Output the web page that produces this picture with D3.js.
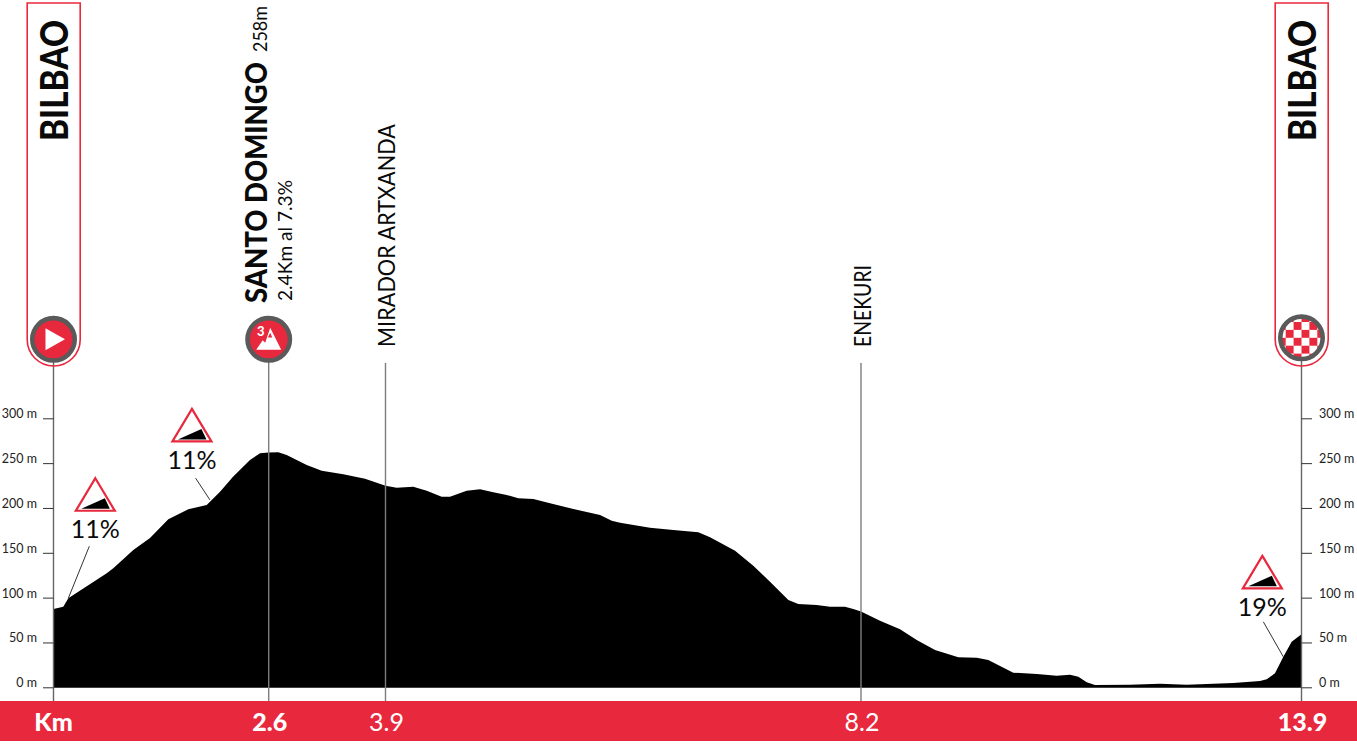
<!DOCTYPE html>
<html><head><meta charset="utf-8">
<style>html,body{margin:0;padding:0;background:#fff;overflow:hidden}svg{display:block}text{font-family:Lato,"Open Sans",sans-serif}</style>
<script src="https://cdn.jsdelivr.net/npm/d3@7"></script></head>
<body><div id="chart"></div>
<script>
const markerKm=[0,2.6,3.9,8.2,13.9];
const markerLabels=["Km","2.6","3.9","8.2","13.9"];
const markerBold=[true,true,false,false,true];
const elevTicks=[0,50,100,150,200,250,300];
const profileKm=[0,.118,.179,.643,.722,.964,1.166,1.387,1.629,1.851,2.012,2.169,2.374,2.495,2.6,2.707,2.8,3.023,3.19,3.43,3.672,3.9,4.001,4.151,4.273,4.408,4.483,4.634,4.755,4.875,4.996,5.101,5.237,5.388,5.599,5.84,5.946,6.021,6.292,6.503,6.729,6.835,7.061,7.226,7.377,7.543,7.633,7.799,7.92,8.055,8.13,8.2,8.446,8.705,8.921,9.158,9.459,9.697,9.847,10.171,10.474,10.732,10.904,11.012,11.121,11.228,11.681,12.069,12.415,13.018,13.363,13.45,13.557,13.665,13.773,13.9];
const profileElev=[87.3,89.9,99.3,127.1,132.7,153.1,166.5,187.4,198.5,203.3,218.1,234.9,253.5,261,261.8,262.1,259.1,247.9,241.6,237.5,232.6,224.8,222.6,223.7,219.2,212.6,212.6,219.2,220.8,217.5,214.5,210.8,210,205.2,198.8,192.1,185.8,183.6,178,175.4,172.9,167.3,152.3,135.6,117.8,97.4,92.9,91.8,89.9,89.9,87.3,84.5,74.3,64.7,52.7,41.6,33.5,33,30.4,16.3,14.8,12.9,14.1,11.8,5.6,2.6,2.9,4,2.9,4.8,7,8.9,15.6,34.1,50.9,59.1];
const climbKm=[.179,1.89,13.665];
const climbElev=[99.3,209,34];
const climbLabels=["11%","11%","19%"];
const startFinish=["BILBAO","BILBAO"];

const W=1357,H=744,red="#e8283c",grey="#5a5a5a";
const x=d3.scaleLinear().domain(markerKm).range([53.5,268.7,385.5,861,1301.5]);
const y=d3.scaleLinear().domain([0,300]).range([687.3,418.3]);
const svg=d3.select("#chart").append("svg").attr("width",W).attr("height",H);

// profile
const pts=profileKm.map((k,i)=>[k,profileElev[i]]);
svg.append("path").datum(pts).attr("fill","#000")
 .attr("d",d3.area().x(d=>x(d[0])).y0(y(-0.5)).y1(d=>y(d[1])).curve(d3.curveLinear));

// bottom band
svg.append("rect").attr("x",0).attr("y",701).attr("width",W).attr("height",40).attr("fill",red);

// vertical marker lines
svg.selectAll("line.m").data(markerKm).join("line").attr("class","m")
 .attr("x1",d=>x(d)).attr("x2",d=>x(d)).attr("y1",(d,i)=>i==2||i==3?363:350).attr("y2",701)
 .attr("stroke",(d,i)=>i==0||i==4?"#666":"#7d7d7d").attr("stroke-width",1.4);

// axes
const fmt=d=>d+" m";
const axL=d3.axisLeft(y).tickValues(elevTicks).tickFormat(fmt).tickSize(10.5).tickPadding(6);
const axR=d3.axisRight(y).tickValues(elevTicks).tickFormat(fmt).tickSize(10.5).tickPadding(7);
[[axL,x(0)],[axR,x(13.9)]].forEach(([a,px])=>{
  const g=svg.append("g").attr("transform",`translate(${px},0)`).call(a);
  g.select(".domain").remove();
  g.selectAll("line").attr("stroke","#333").attr("stroke-width",1);
  g.selectAll("text").attr("dy","-0.05em").attr("fill","#222").style("font-size","12.5px").style("font-family","Lato");
});

// km labels
svg.selectAll("text.km").data(markerKm).join("text").attr("class","km")
 .attr("x",(d,i)=>x(d)+(i==0?0:1)).attr("y",731).attr("text-anchor","middle").attr("fill","#fff")
 .attr("font-size",25).attr("font-weight",(d,i)=>markerBold[i]?900:400).text((d,i)=>markerLabels[i]);

// pills
[0,13.9].forEach(k=>{
  const cx=x(k)+0.2,l=cx-26.5,r=cx+26.5,t=3,b=366,rad=26.5;
  svg.append("path").attr("fill","none").attr("stroke",red).attr("stroke-width",1.6)
   .attr("d",`M${l},${t}H${r}V${b-rad}A${rad},${rad} 0 0 1 ${l},${b-rad}Z`);
});

// rotated text helper
function vtext(px,py,str,size,weight,len){
  const t=svg.append("text").attr("transform",`translate(${px},${py}) rotate(-90)`)
   .attr("font-size",size).attr("font-weight",weight).attr("fill","#0a0a0a").text(str);
  if(len) t.attr("textLength",len).attr("lengthAdjust","spacingAndGlyphs");
  return t;
}
vtext(x(0)+14.5,141,startFinish[0],37,900,121);
vtext(x(13.9)+14.5,141,startFinish[1],37,900,121);
vtext(x(2.6)-1.5,303,"SANTO DOMINGO",30,900,241);
vtext(x(2.6)-1.5,52,"258m",19,400,46);
vtext(x(2.6)+23,301,"2.4Km al 7.3%",20,400,121);
vtext(x(3.9)+9.5,347,"MIRADOR ARTXANDA",23,400,223);
vtext(x(8.2)+9.5,347,"ENEKURI",23,400,82);

// badges
function badge(k,cy){
  const g=svg.append("g").attr("transform",`translate(${x(k)},${cy})`);
  g.append("circle").attr("r",21.2).attr("fill",red).attr("stroke",grey).attr("stroke-width",4.6);
  return g;
}
badge(0,339.3).append("path").attr("fill","#fff").attr("d","M-8,-11L11.5,0L-8,11Z");
const m=badge(2.6,339.3);
m.append("path").attr("fill","#fff").attr("d","M-12.5,10.5L-6,1L-3.5,3.5L1.5,-11.5L12.5,10.5Z");
m.append("path").attr("fill",red).attr("d","M1.5,-6.5L-0.8,-1.8L3.6,-1.8Z");
m.append("text").attr("x",-8).attr("y",-3).attr("text-anchor","middle").attr("fill","#fff").attr("font-size",13).attr("font-weight",900).text("3");

const f=svg.append("g").attr("transform",`translate(${x(13.9)},337.8)`);
svg.append("clipPath").attr("id","ck").append("circle").attr("r",21);
f.append("circle").attr("r",21.2).attr("fill","#fff");
const sq=7.9, cells=d3.range(-3,3).flatMap(a=>d3.range(-3,3).map(b=>[a,b]));
f.append("g").attr("clip-path","url(#ck)").selectAll("rect").data(cells.filter(d=>(d[0]+d[1]+6)%2==1)).join("rect")
 .attr("x",d=>d[0]*sq).attr("y",d=>d[1]*sq).attr("width",sq).attr("height",sq).attr("fill",red);
f.append("circle").attr("r",21.2).attr("fill","none").attr("stroke",grey).attr("stroke-width",4.6);

// climb signs
const signDx=[27,-18,-21], apexDy=[-122,-93,-103], lead=[[21,-52],[-14.3,-21.7],[-20,-35]];
climbKm.forEach((k,i)=>{
  const ex=x(k),ey=y(climbElev[i]),cx=ex+signDx[i],ay=ey+apexDy[i];
  svg.append("line").attr("x1",ex).attr("y1",ey).attr("x2",ex+lead[i][0]).attr("y2",ey+lead[i][1]).attr("stroke","#333").attr("stroke-width",1);
  svg.append("path").attr("fill","#fff").attr("stroke",red).attr("stroke-width",2.2).attr("stroke-linejoin","miter")
   .attr("d",`M${cx},${ay+2}L${cx+19.5},${ay+34.5}H${cx-19.5}Z`);
  svg.append("path").attr("fill","#000").attr("d",`M${cx-14},${ay+32.5}L${cx+9.5},${ay+22}L${cx+14.5},${ay+32.5}Z`);
  svg.append("text").attr("x",cx).attr("y",ay+62).attr("text-anchor","middle").attr("fill","#0a0a0a")
   .attr("font-size",25).attr("font-weight",400).text(climbLabels[i]);
});
</script></body></html>
